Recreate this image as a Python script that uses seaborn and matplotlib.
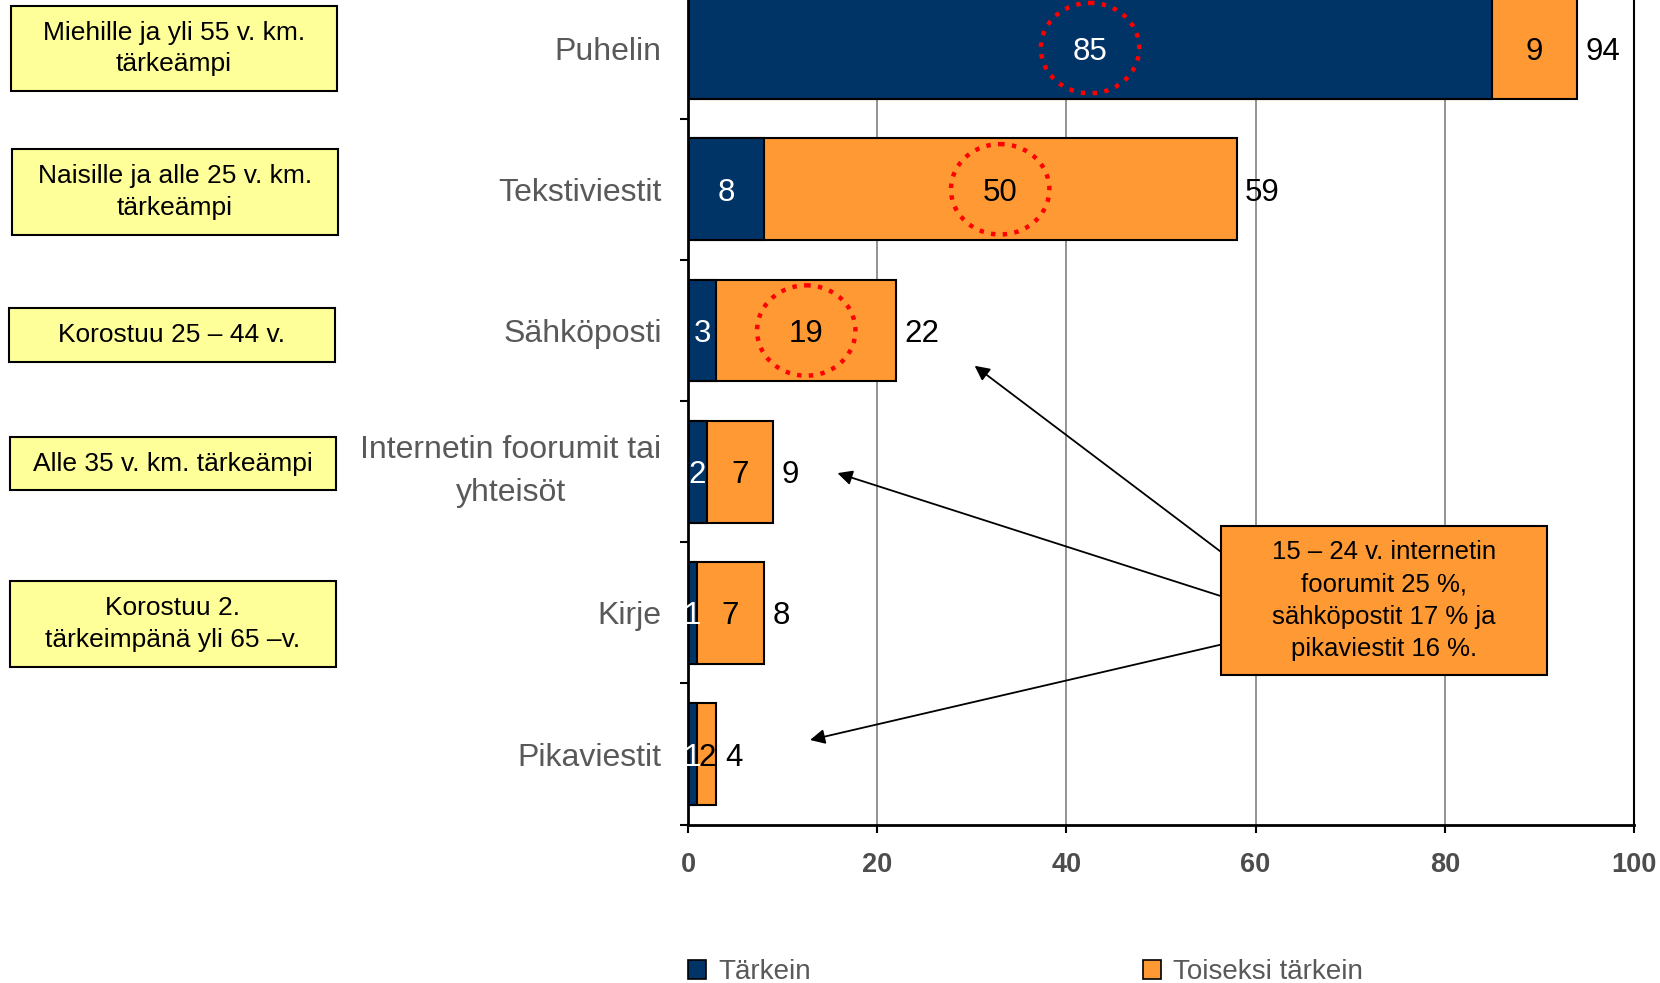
import seaborn as sns
import matplotlib.pyplot as plt
import pandas as pd
from matplotlib.patches import Rectangle, Ellipse, Patch
from matplotlib.ticker import FixedLocator

# ---- data ----
categories = ["Puhelin", "Tekstiviestit", "Sähköposti",
              "Internetin foorumit tai\nyhteisöt", "Kirje", "Pikaviestit"]
tarkein = [85, 8, 3, 2, 1, 1]
toiseksi = [9, 50, 19, 7, 7, 2]
total_labels = [94, 59, 22, 9, 8, 4]
highlight_rows = [0, 1, 2]          # rows with red dotted circle
highlight_series = ["t", "s", "s"]  # t = Tärkein, s = Toiseksi tärkein
xticks = [0, 20, 40, 60, 80, 100]

side_notes = ["Miehille ja yli 55 v. km.\ntärkeämpi",
              "Naisille ja alle 25 v. km.\ntärkeämpi",
              "Korostuu 25 – 44 v.",
              "Alle 35 v. km. tärkeämpi",
              "Korostuu 2.\ntärkeimpänä yli 65 –v."]
callout_text = "15 – 24 v. internetin\nfoorumit 25 %,\nsähköpostit 17 % ja\npikaviestit 16 %."
series_names = ["Tärkein", "Toiseksi tärkein"]

NAVY = "#003366"
ORANGE = "#FF9933"
YELLOW = "#FFFF99"
GRAY_TXT = "#595959"

sns.set_style("white")
plt.rcParams['font.family'] = ['Liberation Sans', 'DejaVu Sans']

df = pd.DataFrame({"cat": categories, "t": tarkein, "s": toiseksi})
df["sum"] = df["t"] + df["s"]

W, H = 1660, 983
fig = plt.figure(figsize=(W / 100, H / 100), dpi=100)
ax = fig.add_axes([688 / W, 158.3 / H, (1634 - 688) / W, 847.2 / H])

sns.barplot(data=df, y="cat", x="sum", color=ORANGE, saturation=1, width=0.72,
            edgecolor="black", linewidth=1.5, errorbar=None, orient="h", ax=ax)
sns.barplot(data=df, y="cat", x="t", color=NAVY, saturation=1, width=0.72,
            edgecolor="black", linewidth=1.5, errorbar=None, orient="h", ax=ax)

ax.set_xlim(0, 100)
ax.set_ylim(5.5, -0.5)
ax.set_xlabel("")
ax.set_ylabel("")
ax.set_xticks(xticks)
ax.set_xticklabels([str(v) for v in xticks], fontweight="bold")
ax.tick_params(axis="x", length=6, width=1.5, direction="out", pad=14,
               labelsize=19.5, labelcolor="#4D4D4D", bottom=True, color="black")
ax.set_yticks(range(len(categories)))
ax.set_yticklabels(categories)
ax.tick_params(axis="y", which="major", length=0, pad=19, labelsize=23,
               labelcolor=GRAY_TXT)
for lbl in ax.get_yticklabels():
    lbl.set_multialignment("center")
    lbl.set_linespacing(1.55)
    if "\n" in lbl.get_text():
        lbl.set_verticalalignment("center")
ax.yaxis.set_minor_locator(FixedLocator([i + 0.5 for i in range(-1, len(categories))]))
ax.tick_params(axis="y", which="minor", length=6, width=1.5, direction="out",
               left=True, color="black")

ax.xaxis.grid(True, color="#808080", linewidth=1.2)
ax.yaxis.grid(False)
ax.set_axisbelow(True)
for side in ["left", "bottom"]:
    ax.spines[side].set_color("black")
    ax.spines[side].set_linewidth(2)
ax.spines["right"].set_color("black")
ax.spines["right"].set_linewidth(1.5)
ax.spines["top"].set_visible(False)

# value labels
for i in range(len(categories)):
    ax.text(tarkein[i] / 2, i, str(tarkein[i]), color="white", ha="center",
            va="center_baseline", fontsize=22.5)
    ax.text(tarkein[i] + toiseksi[i] / 2, i, str(toiseksi[i]), color="black",
            ha="center", va="center_baseline", fontsize=22.5)
    ax.text(tarkein[i] + toiseksi[i] + 0.9, i, str(total_labels[i]), color="black",
            ha="left", va="center_baseline", fontsize=22.5)

# red dotted circles
for r, s in zip(highlight_rows, highlight_series):
    cx = tarkein[r] / 2 if s == "t" else tarkein[r] + toiseksi[r] / 2
    ax.add_patch(Ellipse((cx, r), width=10.4, height=0.64, fill=False,
                         edgecolor="red", linestyle=":", linewidth=3.2, zorder=5))

# side notes (yellow boxes), figure pixel coords from top
boxes = [(10.6, 6.4, 336.6, 91), (11.6, 149, 337.7, 235), (8.5, 308, 334.5, 362),
         (9.5, 437, 335.6, 490), (9.5, 581, 335.6, 667)]
for (x0, y0, x1, y1), txt in zip(boxes, side_notes):
    fig.add_artist(Rectangle((x0 / W, 1 - y1 / H), (x1 - x0) / W, (y1 - y0) / H,
                             transform=fig.transFigure, facecolor=YELLOW,
                             edgecolor="black", linewidth=1.5))
    fig.text((x0 + x1) / 2 / W, 1 - (y0 + y1) / 2 / H, txt, ha="center", va="center",
             fontsize=19, color="black", linespacing=1.4)

# callout arrows
starts = [(1220.6, 551.6), (1220.6, 596), (1220.6, 644.7)]
tips = [(30.3, 2.25), (15.8, 3.01), (12.9, 4.9)]
for (sx, sy), tip in zip(starts, tips):
    ax.annotate("", xy=tip, xycoords="data", xytext=(sx / W, 1 - sy / H),
                textcoords="figure fraction", annotation_clip=False,
                arrowprops=dict(arrowstyle="-|>", color="black", lw=1.3,
                                mutation_scale=22, shrinkA=0, shrinkB=0))

# callout box
bx0, by0, bx1, by1 = 1220.6, 526, 1546.7, 675
fig.add_artist(Rectangle((bx0 / W, 1 - by1 / H), (bx1 - bx0) / W, (by1 - by0) / H,
                         transform=fig.transFigure, facecolor=ORANGE,
                         edgecolor="black", linewidth=1.5, zorder=10))
fig.text((bx0 + bx1) / 2 / W, 1 - (by0 + by1) / 2 / H, callout_text, ha="center",
         va="center", fontsize=18.5, color="black", linespacing=1.45, zorder=11)

# legend
handles = [Patch(facecolor=NAVY, edgecolor="black", linewidth=1.2, label=series_names[0]),
           Patch(facecolor=ORANGE, edgecolor="black", linewidth=1.2, label=series_names[1])]
fig.legend(handles=handles, loc="center left", bbox_to_anchor=(688 / W, 11 / H),
           ncol=2, frameon=False, fontsize=20, handlelength=0.65, handleheight=0.65,
           handletextpad=0.43, columnspacing=11.95, borderpad=0, borderaxespad=0,
           labelcolor=GRAY_TXT)

fig.savefig("out.png", dpi=100)
